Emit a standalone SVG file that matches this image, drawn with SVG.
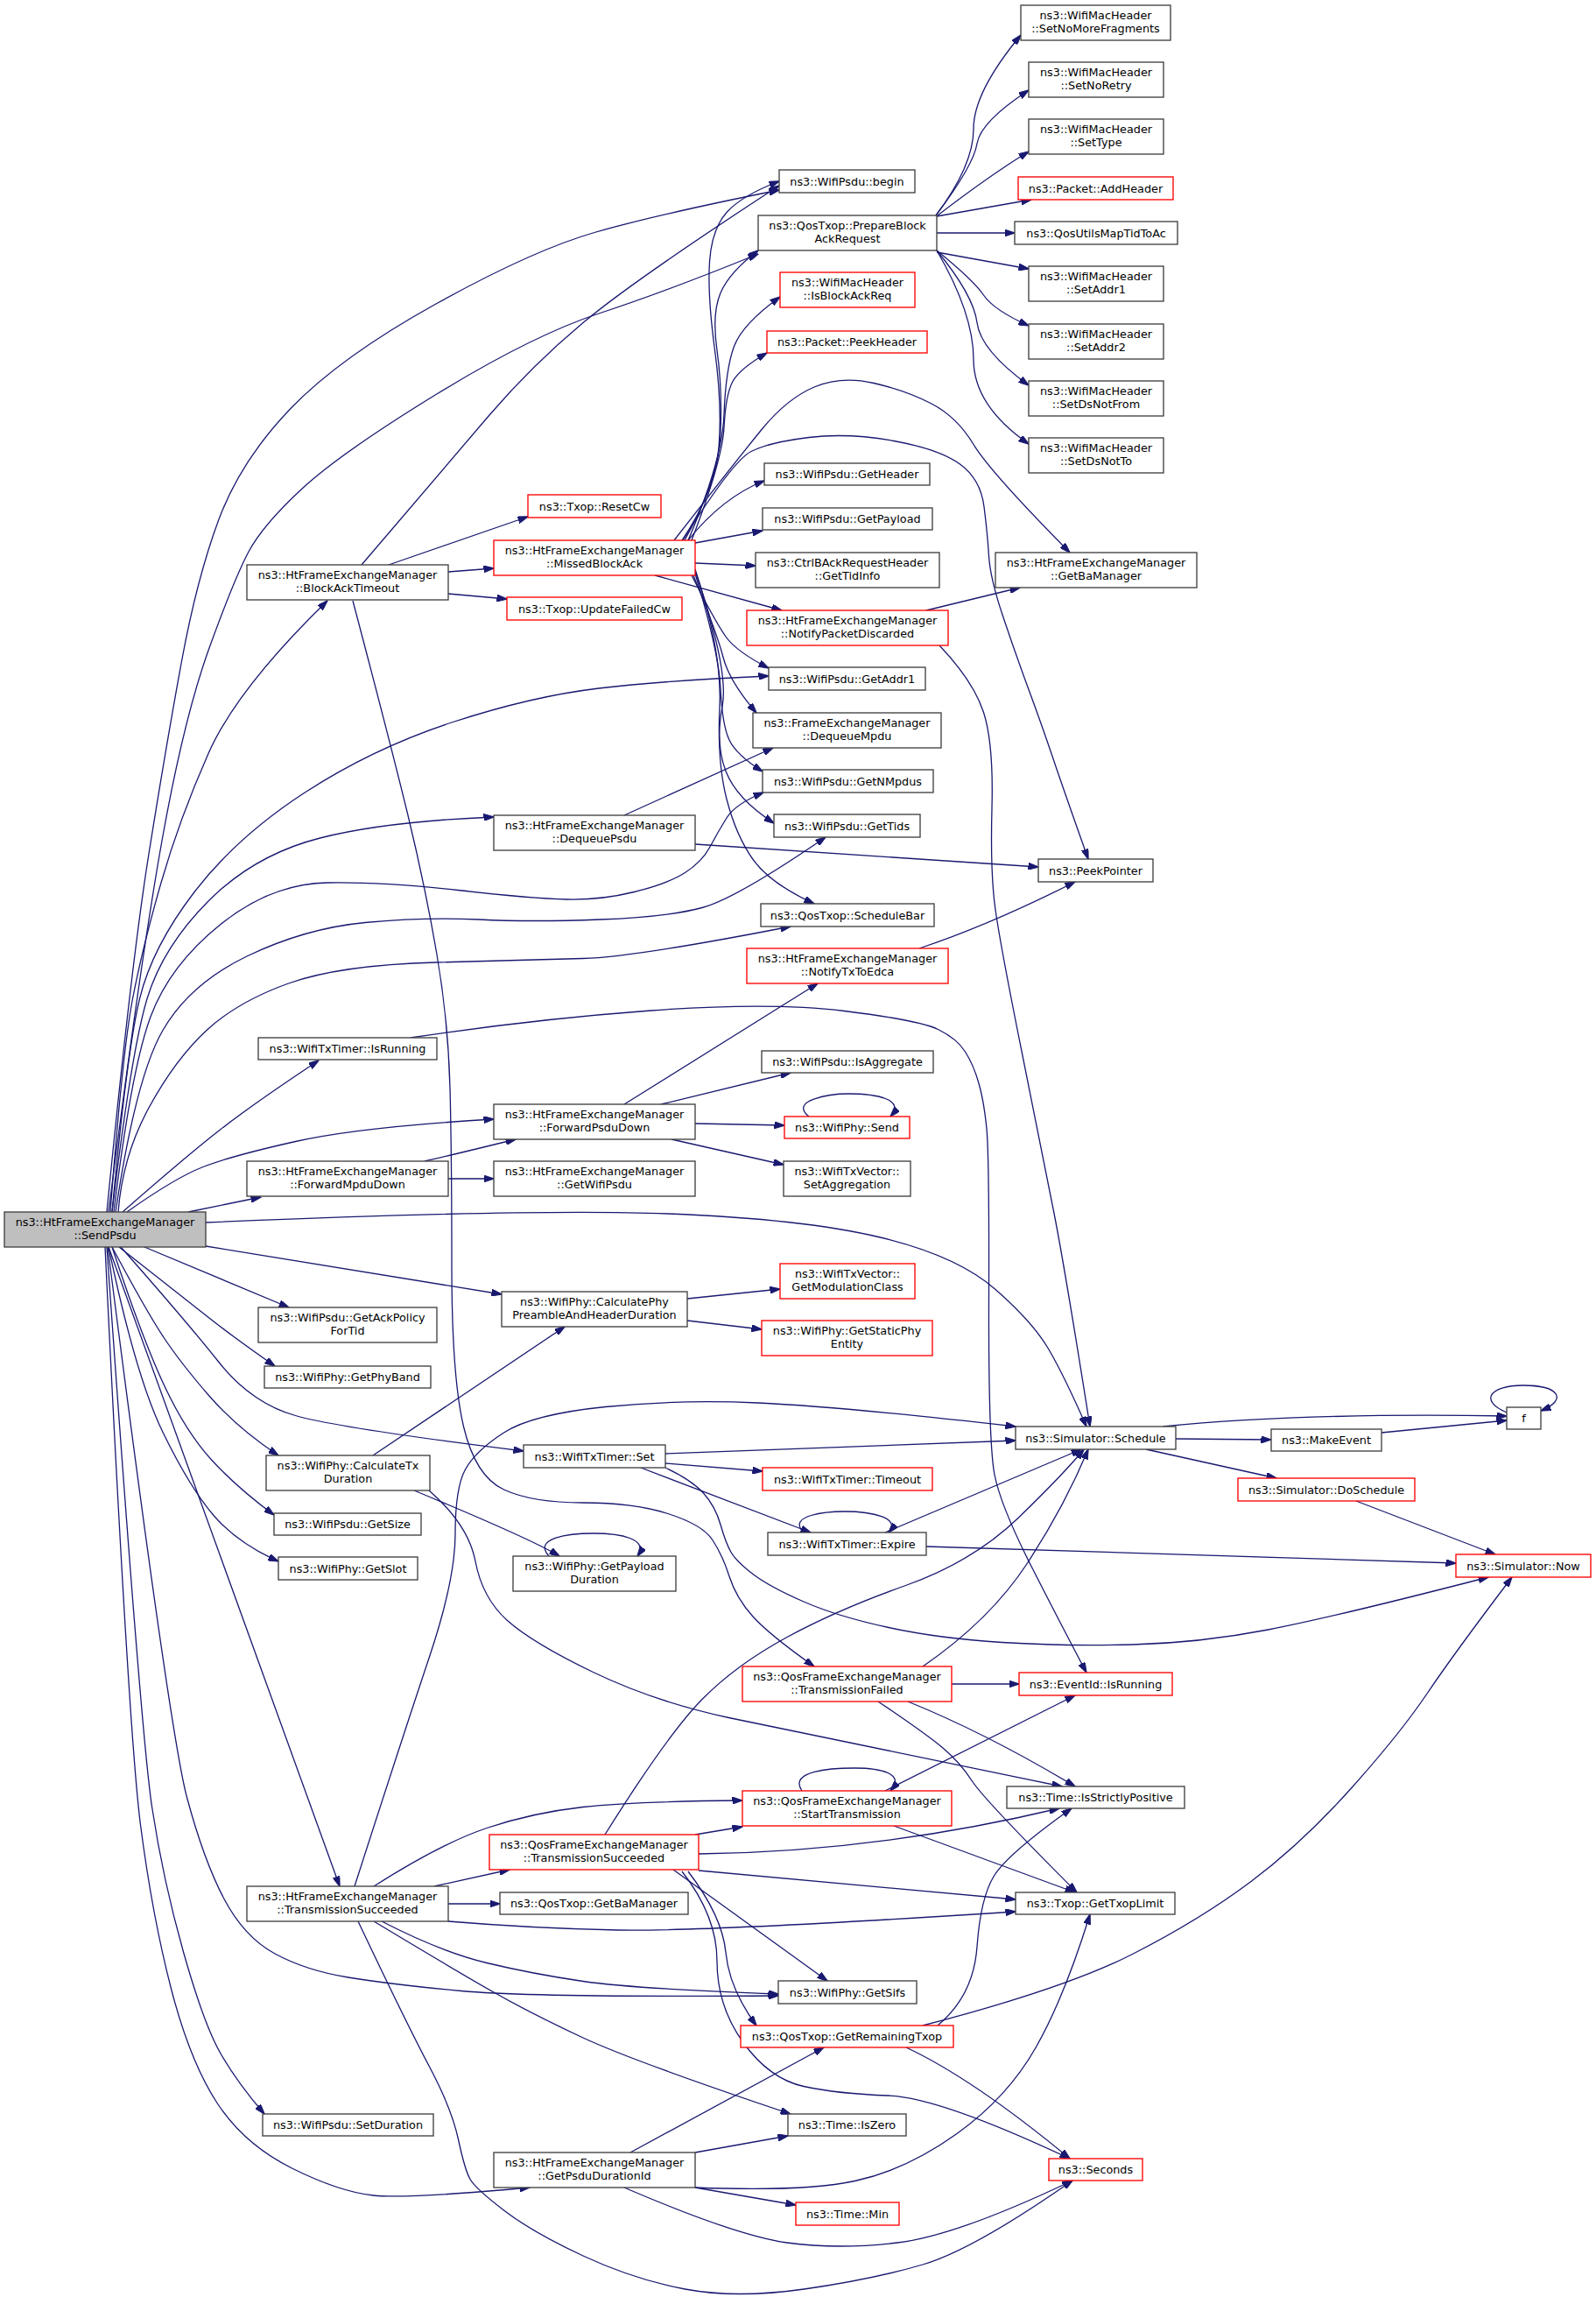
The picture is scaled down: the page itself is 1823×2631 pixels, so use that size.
<svg xmlns="http://www.w3.org/2000/svg" width="1823" height="2631" viewBox="0 0 1823 2631">
<style>
.node rect{fill:#ffffff;stroke:#404040;stroke-width:1.35}
.node.red rect{stroke:#ff0000}
.node.root rect{fill:#bfbfbf}
.node text{font-family:"DejaVu Sans","Liberation Sans",sans-serif;font-size:12.8px;text-anchor:middle;fill:#000}
#edges path{fill:none;stroke:#191970;stroke-width:1.3;marker-end:url(#arr)}
</style>
<defs>
<marker id="arr" markerWidth="12" markerHeight="8" refX="11.5" refY="4" orient="auto" markerUnits="userSpaceOnUse">
<path d="M0,0 L12,4 L0,8 z" fill="#191970" stroke="#191970" stroke-width="1"/>
</marker>
</defs>
<rect x="0" y="0" width="1823" height="2631" fill="#ffffff"/>
<g id="edges">
<path d="M122,1384 Q150,1100 170,975 Q190,850 207.5,755 Q225,660 250,593 Q275,526 331.5,467 Q388,408 498,347 Q608,286 679,265.5 Q750,245 890,217"/>
<path d="M124,1384 Q160,1100 185,960 Q210,820 239,740 Q268,660 284,630 Q300,600 344,559 Q388,518 498,450.5 Q608,383 685.5,357.5 Q763,332 866,290"/>
<path d="M126,1384 Q140,1200 151.5,1140.5 Q163,1081 184,1008 Q205,935 238,860.5 Q271,786 374,686"/>
<path d="M128,1384 Q145,1200 159.5,1140.5 Q174,1081 222.5,1018 Q271,955 349,904.5 Q427,854 517.5,824.5 Q608,795 684,786 Q760,777 878,772"/>
<path d="M128,1384 Q150,1200 168,1140.5 Q186,1081 238.5,1028.5 Q291,976 365.5,957 Q440,938 564,933"/>
<path d="M130,1384 Q150,1220 172,1161 Q194,1102 252,1055.5 Q310,1009 374,1008 Q438,1007 523,1016.5 Q608,1026 647,1027 Q686,1028 724.5,1018.5 Q763,1009 782.5,996.5 Q802,984 811,967 Q820,950 830,934 Q840,918 872,905"/>
<path d="M132,1384 Q155,1230 186,1176.5 Q217,1123 283,1091.5 Q349,1060 417,1053.5 Q485,1047 546.5,1050 Q608,1053 685.5,1050 Q763,1047 802,1036.5 Q841,1026 943,956"/>
<path d="M135,1384 Q140,1320 170,1265 Q200,1210 235.5,1177 Q271,1144 329.5,1123 Q388,1102 498,1099 Q608,1096 666,1094.5 Q724,1093 903,1058"/>
<path d="M140,1384 Q213,1320 251.5,1290 Q290,1260 364,1211"/>
<path d="M145,1384 Q200,1345 232,1332.5 Q264,1320 337.5,1303.5 Q411,1287 564,1278"/>
<path d="M215,1384 L298,1367"/>
<path d="M235,1396 Q608,1380 763,1386 Q918,1392 1005.5,1413 Q1093,1434 1136.5,1472 Q1180,1510 1198,1541 Q1216,1572 1241,1629"/>
<path d="M235,1423 L573,1478"/>
<path d="M165,1424 L330,1493"/>
<path d="M136,1424 Q217,1488 244,1509 Q271,1530 314,1560"/>
<path d="M138,1424 Q213,1509 250,1555.5 Q287,1602 337.5,1616.5 Q388,1631 598,1657"/>
<path d="M128,1424 Q167,1497 186.5,1526.5 Q206,1556 238.5,1593.5 Q271,1631 318,1662"/>
<path d="M128,1424 Q163,1530 188,1583 Q213,1636 242,1667.5 Q271,1699 313,1730"/>
<path d="M124,1424 Q155,1572 186,1635.5 Q217,1699 244,1730.5 Q271,1762 318,1783"/>
<path d="M124,1424 L388,2154"/>
<path d="M122,1424 Q161,1980 173.5,2063 Q186,2146 209.5,2229 Q233,2312 252,2345 Q271,2378 302,2414"/>
<path d="M120,1424 Q147,1980 160.5,2084 Q174,2188 195.5,2271 Q217,2354 248,2401.5 Q279,2449 333.5,2476 Q388,2503 426.5,2507 Q465,2511 605,2498"/>
<path d="M123,1424 Q194,1980 213.5,2052.5 Q233,2125 256,2168.5 Q279,2212 314,2231 Q349,2250 397.5,2258 Q446,2266 527,2273.5 Q608,2281 889,2279"/>
<path d="M413,645 Q510,531 559,474 Q608,417 666,368.5 Q724,320 890,212"/>
<path d="M444,645 L603,590"/>
<path d="M512,653 L564,649"/>
<path d="M512,678 L579,684"/>
<path d="M403,686 Q446,849 465.5,929 Q485,1009 498.5,1087 Q512,1165 514,1242.5 Q516,1320 516,1446 Q516,1572 529.5,1629 Q543,1686 575.5,1701 Q608,1716 666,1716 Q724,1716 763,1728.5 Q802,1741 813.5,1758 Q825,1775 833,1800 Q841,1825 860,1846 Q879,1867 930,1903"/>
<path d="M779,617 Q817,560 821,511.5 Q825,463 816.5,400 Q808,337 810.5,299 Q813,261 830.5,242 Q848,223 890,207"/>
<path d="M782,617 Q821,547 823,494.5 Q825,442 819,400 Q813,358 823,334.5 Q833,311 866,286"/>
<path d="M786,617 Q825,526 827,473.5 Q829,421 838.5,395.5 Q848,370 891,339"/>
<path d="M790,617 Q825,526 827,488 Q829,450 837,435.5 Q845,421 876,403"/>
<path d="M786,617 Q825,568 873,549"/>
<path d="M794,620 L871,606"/>
<path d="M794,643 L863,646"/>
<path d="M748,657 L893,697"/>
<path d="M790,657 Q817,710 829,727 Q841,744 878,763"/>
<path d="M792,657 Q819,723 826,750.5 Q833,778 864,814"/>
<path d="M794,655 Q821,744 823,786 Q825,828 833,845 Q841,862 871,881"/>
<path d="M794,652 Q833,765 825,807 Q817,849 829,880.5 Q841,912 884,940"/>
<path d="M794,650 Q825,744 822,807 Q819,870 830,912.5 Q841,955 860.5,982 Q880,1009 930,1032"/>
<path d="M770,617 Q841,526 870,490.5 Q899,455 930,442 Q961,429 998,437.5 Q1035,446 1064,461 Q1093,476 1112,507.5 Q1131,539 1222,631"/>
<path d="M780,617 Q837,526 858,515.5 Q879,505 924,499.5 Q969,494 1021,503.5 Q1073,513 1096.5,530 Q1120,547 1124,578.5 Q1128,610 1129.5,635 Q1131,660 1145,702 Q1159,744 1174.5,786 Q1190,828 1203,866.5 Q1216,905 1243,981"/>
<path d="M1058,697 L1165,671"/>
<path d="M1073,737 Q1112,778 1123.5,813.5 Q1135,849 1133,923 Q1131,997 1137,1039 Q1143,1081 1167,1200.5 Q1191,1320 1203.5,1383 Q1216,1446 1245,1629"/>
<path d="M713,931 L883,854"/>
<path d="M794,964 L1186,990"/>
<path d="M1050,1083 Q1131,1056 1228,1007"/>
<path d="M469,1185 Q608,1164 743.5,1154 Q879,1144 964.5,1154.5 Q1050,1165 1071.5,1175.5 Q1093,1186 1102.5,1201 Q1112,1216 1118,1237 Q1124,1258 1127,1289 Q1130,1320 1129.5,1484 Q1129,1648 1136,1684 Q1143,1720 1179.5,1791.5 Q1216,1863 1241,1910"/>
<path d="M713,1261 L934,1123"/>
<path d="M755,1261 L903,1225"/>
<path d="M794,1283 L896,1285"/>
<path d="M767,1301 L895,1330"/>
<path d="M924,1275 C900,1256 950,1249 969,1249 C1000,1249 1035,1255 1017,1275"/>
<path d="M485,1326 Q516,1319 589,1301"/>
<path d="M512,1346 L564,1346"/>
<path d="M426,1662 L645,1515"/>
<path d="M473,1702 Q608,1758 639,1777"/>
<path d="M490,1702 Q535,1741 543,1783 Q551,1825 579.5,1850.5 Q608,1876 677.5,1909.5 Q747,1943 832.5,1961.5 Q918,1980 1213,2040"/>
<path d="M785,1483 L891,1472"/>
<path d="M785,1508 L870,1518"/>
<path d="M627,1777 C608,1756 650,1751 678,1751 C708,1751 742,1757 728,1777"/>
<path d="M760,1660 L1160,1645"/>
<path d="M760,1671 L871,1680"/>
<path d="M732,1676 L926,1750"/>
<path d="M760,1676 Q790,1690 803.5,1705 Q817,1720 823,1741 Q829,1762 835,1772.5 Q841,1783 860,1797.5 Q879,1812 918,1829 Q957,1846 1015,1858.5 Q1073,1871 1144.5,1875.5 Q1216,1880 1293.5,1878 Q1371,1876 1448.5,1861 Q1526,1846 1700,1801"/>
<path d="M918,1750 C898,1730 945,1726 965,1726 C995,1726 1030,1733 1015,1750"/>
<path d="M1011,1750 L1235,1655"/>
<path d="M1058,1766 Q1216,1771 1663,1785"/>
<path d="M405,2154 Q461,1980 490.5,1892 Q520,1804 520,1751.5 Q520,1699 531.5,1678 Q543,1657 575.5,1636 Q608,1615 691.5,1606.5 Q775,1598 866,1602 Q957,1606 1160,1629"/>
<path d="M691,2095 Q763,1980 802,1940.5 Q841,1901 899,1869.5 Q957,1838 1034.5,1810.5 Q1112,1783 1164,1732.5 Q1216,1682 1238,1655"/>
<path d="M1054,1903 Q1131,1850 1173.5,1785 Q1216,1720 1243,1655"/>
<path d="M1087,1923 L1164,1923"/>
<path d="M1003,1943 Q1058,1980 1077.5,1996.5 Q1097,2013 1110.5,2034 Q1124,2055 1230,2161"/>
<path d="M1037,1943 Q1128,1980 1228,2040"/>
<path d="M1328,1629 Q1487,1613 1721,1617"/>
<path d="M1343,1643 L1452,1644"/>
<path d="M1309,1655 L1458,1688"/>
<path d="M1578,1636 L1721,1622"/>
<path d="M1721,1613 C1690,1600 1700,1582 1740,1582 C1780,1582 1792,1598 1760,1611"/>
<path d="M1549,1714 L1708,1775"/>
<path d="M916,2045 C900,2022 950,2019 976,2019 C1005,2019 1035,2025 1017,2045"/>
<path d="M1011,2045 L1228,1936"/>
<path d="M1021,2085 L1228,2161"/>
<path d="M794,2095 L848,2086"/>
<path d="M798,2117 Q1000,2115 1210,2065"/>
<path d="M798,2136 L1160,2169"/>
<path d="M769,2135 L945,2262"/>
<path d="M786,2137 Q825,2188 829,2229.5 Q833,2271 864,2313"/>
<path d="M779,2137 Q819,2188 819,2239.5 Q819,2291 849,2332.5 Q879,2374 918,2382.5 Q957,2391 1015,2393 Q1073,2395 1222,2465"/>
<path d="M427,2154 Q504,2105 556,2087.5 Q608,2070 666,2063.5 Q724,2057 848,2056"/>
<path d="M496,2154 L582,2135"/>
<path d="M512,2174 L571,2174"/>
<path d="M512,2194 Q608,2202 705,2204 Q802,2206 1160,2183"/>
<path d="M436,2194 Q504,2229 556,2241.5 Q608,2254 666,2262.5 Q724,2271 889,2277"/>
<path d="M427,2194 Q520,2250 564,2275 Q608,2300 666,2327 Q724,2354 903,2414"/>
<path d="M409,2194 Q465,2312 490.5,2360 Q516,2408 523.5,2443 Q531,2478 537,2488.5 Q543,2499 575.5,2524 Q608,2549 666,2576 Q724,2603 782.5,2614 Q841,2625 918.5,2614 Q996,2603 1054,2586 Q1112,2569 1225,2490"/>
<path d="M1071,2313 Q1112,2279 1116,2223 Q1120,2167 1135.5,2142 Q1151,2117 1224,2065"/>
<path d="M1054,2313 Q1216,2271 1293.5,2231.5 Q1371,2192 1429,2148.5 Q1487,2105 1543,2042.5 Q1599,1980 1630,1934 Q1661,1888 1727,1801"/>
<path d="M1035,2338 Q1112,2374 1222,2465"/>
<path d="M720,2458 L941,2338"/>
<path d="M794,2458 L900,2439"/>
<path d="M794,2498 L909,2518"/>
<path d="M794,2498 Q918,2503 976.5,2490.5 Q1035,2478 1093,2436.5 Q1151,2395 1183.5,2337.5 Q1216,2280 1245,2186"/>
<path d="M713,2498 Q841,2553 899,2561 Q957,2569 1025,2561 Q1093,2553 1225,2490"/>
<path d="M1069,246 Q1112,189 1112,147 Q1112,105 1166,40"/>
<path d="M1069,246 Q1112,189 1116,164 Q1120,139 1175,103"/>
<path d="M1071,246 Q1128,202 1175,173"/>
<path d="M1070,247 L1178,228"/>
<path d="M1070,266 L1159,266"/>
<path d="M1070,288 L1175,307"/>
<path d="M1070,286 Q1112,320 1123.5,337 Q1135,354 1175,372"/>
<path d="M1070,286 Q1112,337 1116,368.5 Q1120,400 1175,440"/>
<path d="M1070,286 Q1112,358 1112,410.5 Q1112,463 1175,507"/>
</g>
<g id="n0" class="node root"><rect x="5" y="1384" width="230" height="40"/><text x="120" y="1399.5">ns3::HtFrameExchangeManager</text><text x="120" y="1414.5">::SendPsdu</text></g>
<g id="n1" class="node"><rect x="282" y="645" width="230" height="40"/><text x="397" y="660.5">ns3::HtFrameExchangeManager</text><text x="397" y="675.5">::BlockAckTimeout</text></g>
<g id="n2" class="node"><rect x="890" y="194" width="155" height="26"/><text x="967.5" y="211.5">ns3::WifiPsdu::begin</text></g>
<g id="n3" class="node"><rect x="866" y="246" width="204" height="40"/><text x="968" y="261.5">ns3::QosTxop::PrepareBlock</text><text x="968" y="276.5">AckRequest</text></g>
<g id="n4" class="node red"><rect x="603" y="565" width="152" height="26"/><text x="679" y="582.5">ns3::Txop::ResetCw</text></g>
<g id="n5" class="node red"><rect x="564" y="617" width="230" height="40"/><text x="679" y="632.5">ns3::HtFrameExchangeManager</text><text x="679" y="647.5">::MissedBlockAck</text></g>
<g id="n6" class="node red"><rect x="579" y="682" width="200" height="26"/><text x="679" y="699.5">ns3::Txop::UpdateFailedCw</text></g>
<g id="n7" class="node red"><rect x="891" y="311" width="154" height="40"/><text x="968" y="326.5">ns3::WifiMacHeader</text><text x="968" y="341.5">::IsBlockAckReq</text></g>
<g id="n8" class="node red"><rect x="876" y="378" width="183" height="25"/><text x="967.5" y="395">ns3::Packet::PeekHeader</text></g>
<g id="n9" class="node"><rect x="873" y="529" width="189" height="25"/><text x="967.5" y="546">ns3::WifiPsdu::GetHeader</text></g>
<g id="n10" class="node"><rect x="871" y="580" width="194" height="25"/><text x="968" y="597">ns3::WifiPsdu::GetPayload</text></g>
<g id="n11" class="node"><rect x="863" y="631" width="210" height="40"/><text x="968" y="646.5">ns3::CtrlBAckRequestHeader</text><text x="968" y="661.5">::GetTidInfo</text></g>
<g id="n12" class="node red"><rect x="853" y="697" width="230" height="40"/><text x="968" y="712.5">ns3::HtFrameExchangeManager</text><text x="968" y="727.5">::NotifyPacketDiscarded</text></g>
<g id="n13" class="node"><rect x="878" y="762" width="179" height="26"/><text x="967.5" y="779.5">ns3::WifiPsdu::GetAddr1</text></g>
<g id="n14" class="node"><rect x="860" y="814" width="215" height="40"/><text x="967.5" y="829.5">ns3::FrameExchangeManager</text><text x="967.5" y="844.5">::DequeueMpdu</text></g>
<g id="n15" class="node"><rect x="871" y="879" width="195" height="26"/><text x="968.5" y="896.5">ns3::WifiPsdu::GetNMpdus</text></g>
<g id="n16" class="node"><rect x="884" y="930" width="167" height="26"/><text x="967.5" y="947.5">ns3::WifiPsdu::GetTids</text></g>
<g id="n17" class="node"><rect x="564" y="931" width="230" height="40"/><text x="679" y="946.5">ns3::HtFrameExchangeManager</text><text x="679" y="961.5">::DequeuePsdu</text></g>
<g id="n18" class="node"><rect x="1186" y="981" width="131" height="26"/><text x="1251.5" y="998.5">ns3::PeekPointer</text></g>
<g id="n19" class="node"><rect x="869" y="1032" width="198" height="26"/><text x="968" y="1049.5">ns3::QosTxop::ScheduleBar</text></g>
<g id="n20" class="node red"><rect x="853" y="1083" width="230" height="40"/><text x="968" y="1098.5">ns3::HtFrameExchangeManager</text><text x="968" y="1113.5">::NotifyTxToEdca</text></g>
<g id="n21" class="node"><rect x="295" y="1185" width="204" height="25"/><text x="397" y="1202">ns3::WifiTxTimer::IsRunning</text></g>
<g id="n22" class="node"><rect x="870" y="1200" width="196" height="25"/><text x="968" y="1217">ns3::WifiPsdu::IsAggregate</text></g>
<g id="n23" class="node red"><rect x="896" y="1275" width="143" height="25"/><text x="967.5" y="1292">ns3::WifiPhy::Send</text></g>
<g id="n24" class="node"><rect x="564" y="1261" width="230" height="40"/><text x="679" y="1276.5">ns3::HtFrameExchangeManager</text><text x="679" y="1291.5">::ForwardPsduDown</text></g>
<g id="n25" class="node"><rect x="282" y="1326" width="230" height="40"/><text x="397" y="1341.5">ns3::HtFrameExchangeManager</text><text x="397" y="1356.5">::ForwardMpduDown</text></g>
<g id="n26" class="node"><rect x="564" y="1326" width="230" height="40"/><text x="679" y="1341.5">ns3::HtFrameExchangeManager</text><text x="679" y="1356.5">::GetWifiPsdu</text></g>
<g id="n27" class="node"><rect x="895" y="1326" width="145" height="40"/><text x="967.5" y="1341.5">ns3::WifiTxVector::</text><text x="967.5" y="1356.5">SetAggregation</text></g>
<g id="n28" class="node"><rect x="573" y="1475" width="212" height="40"/><text x="679" y="1490.5">ns3::WifiPhy::CalculatePhy</text><text x="679" y="1505.5">PreambleAndHeaderDuration</text></g>
<g id="n29" class="node"><rect x="295" y="1493" width="204" height="40"/><text x="397" y="1508.5">ns3::WifiPsdu::GetAckPolicy</text><text x="397" y="1523.5">ForTid</text></g>
<g id="n30" class="node"><rect x="302" y="1560" width="190" height="25"/><text x="397" y="1577">ns3::WifiPhy::GetPhyBand</text></g>
<g id="n31" class="node red"><rect x="891" y="1443" width="154" height="40"/><text x="968" y="1458.5">ns3::WifiTxVector::</text><text x="968" y="1473.5">GetModulationClass</text></g>
<g id="n32" class="node red"><rect x="870" y="1508" width="195" height="40"/><text x="967.5" y="1523.5">ns3::WifiPhy::GetStaticPhy</text><text x="967.5" y="1538.5">Entity</text></g>
<g id="n33" class="node"><rect x="598" y="1650" width="162" height="26"/><text x="679" y="1667.5">ns3::WifiTxTimer::Set</text></g>
<g id="n34" class="node"><rect x="304" y="1662" width="187" height="40"/><text x="397.5" y="1677.5">ns3::WifiPhy::CalculateTx</text><text x="397.5" y="1692.5">Duration</text></g>
<g id="n35" class="node"><rect x="313" y="1728" width="168" height="25"/><text x="397" y="1745">ns3::WifiPsdu::GetSize</text></g>
<g id="n36" class="node"><rect x="318" y="1778" width="159" height="26"/><text x="397.5" y="1795.5">ns3::WifiPhy::GetSlot</text></g>
<g id="n37" class="node"><rect x="586" y="1777" width="186" height="40"/><text x="679" y="1792.5">ns3::WifiPhy::GetPayload</text><text x="679" y="1807.5">Duration</text></g>
<g id="n38" class="node"><rect x="1160" y="1629" width="183" height="26"/><text x="1251.5" y="1646.5">ns3::Simulator::Schedule</text></g>
<g id="n39" class="node red"><rect x="871" y="1676" width="194" height="26"/><text x="968" y="1693.5">ns3::WifiTxTimer::Timeout</text></g>
<g id="n40" class="node"><rect x="877" y="1750" width="181" height="26"/><text x="967.5" y="1767.5">ns3::WifiTxTimer::Expire</text></g>
<g id="n41" class="node red"><rect x="848" y="1903" width="239" height="40"/><text x="967.5" y="1918.5">ns3::QosFrameExchangeManager</text><text x="967.5" y="1933.5">::TransmissionFailed</text></g>
<g id="n42" class="node red"><rect x="1164" y="1910" width="175" height="26"/><text x="1251.5" y="1927.5">ns3::EventId::IsRunning</text></g>
<g id="n43" class="node"><rect x="1721" y="1607" width="39" height="25"/><text x="1740.5" y="1624">f</text></g>
<g id="n44" class="node"><rect x="1452" y="1632" width="126" height="25"/><text x="1515" y="1649">ns3::MakeEvent</text></g>
<g id="n45" class="node red"><rect x="1414" y="1688" width="202" height="26"/><text x="1515" y="1705.5">ns3::Simulator::DoSchedule</text></g>
<g id="n46" class="node red"><rect x="1663" y="1775" width="154" height="26"/><text x="1740" y="1792.5">ns3::Simulator::Now</text></g>
<g id="n47" class="node red"><rect x="848" y="2045" width="239" height="40"/><text x="967.5" y="2060.5">ns3::QosFrameExchangeManager</text><text x="967.5" y="2075.5">::StartTransmission</text></g>
<g id="n48" class="node"><rect x="1150" y="2040" width="203" height="25"/><text x="1251.5" y="2057">ns3::Time::IsStrictlyPositive</text></g>
<g id="n49" class="node red"><rect x="559" y="2095" width="239" height="40"/><text x="678.5" y="2110.5">ns3::QosFrameExchangeManager</text><text x="678.5" y="2125.5">::TransmissionSucceeded</text></g>
<g id="n50" class="node"><rect x="571" y="2161" width="215" height="25"/><text x="678.5" y="2178">ns3::QosTxop::GetBaManager</text></g>
<g id="n51" class="node"><rect x="1160" y="2161" width="182" height="25"/><text x="1251" y="2178">ns3::Txop::GetTxopLimit</text></g>
<g id="n52" class="node"><rect x="282" y="2154" width="230" height="40"/><text x="397" y="2169.5">ns3::HtFrameExchangeManager</text><text x="397" y="2184.5">::TransmissionSucceeded</text></g>
<g id="n53" class="node"><rect x="889" y="2262" width="158" height="26"/><text x="968" y="2279.5">ns3::WifiPhy::GetSifs</text></g>
<g id="n54" class="node red"><rect x="846" y="2313" width="243" height="25"/><text x="967.5" y="2330">ns3::QosTxop::GetRemainingTxop</text></g>
<g id="n55" class="node"><rect x="900" y="2414" width="135" height="25"/><text x="967.5" y="2431">ns3::Time::IsZero</text></g>
<g id="n56" class="node"><rect x="300" y="2414" width="195" height="25"/><text x="397.5" y="2431">ns3::WifiPsdu::SetDuration</text></g>
<g id="n57" class="node"><rect x="564" y="2458" width="230" height="40"/><text x="679" y="2473.5">ns3::HtFrameExchangeManager</text><text x="679" y="2488.5">::GetPsduDurationId</text></g>
<g id="n58" class="node red"><rect x="909" y="2515" width="118" height="26"/><text x="968" y="2532.5">ns3::Time::Min</text></g>
<g id="n59" class="node red"><rect x="1198" y="2465" width="107" height="25"/><text x="1251.5" y="2482">ns3::Seconds</text></g>
<g id="n60" class="node"><rect x="1137" y="631" width="230" height="40"/><text x="1252" y="646.5">ns3::HtFrameExchangeManager</text><text x="1252" y="661.5">::GetBaManager</text></g>
<g id="n61" class="node"><rect x="1166" y="6" width="171" height="40"/><text x="1251.5" y="21.5">ns3::WifiMacHeader</text><text x="1251.5" y="36.5">::SetNoMoreFragments</text></g>
<g id="n62" class="node"><rect x="1175" y="71" width="154" height="40"/><text x="1252" y="86.5">ns3::WifiMacHeader</text><text x="1252" y="101.5">::SetNoRetry</text></g>
<g id="n63" class="node"><rect x="1175" y="136" width="154" height="40"/><text x="1252" y="151.5">ns3::WifiMacHeader</text><text x="1252" y="166.5">::SetType</text></g>
<g id="n64" class="node red"><rect x="1163" y="202" width="177" height="26"/><text x="1251.5" y="219.5">ns3::Packet::AddHeader</text></g>
<g id="n65" class="node"><rect x="1159" y="253" width="186" height="26"/><text x="1252" y="270.5">ns3::QosUtilsMapTidToAc</text></g>
<g id="n66" class="node"><rect x="1175" y="304" width="154" height="40"/><text x="1252" y="319.5">ns3::WifiMacHeader</text><text x="1252" y="334.5">::SetAddr1</text></g>
<g id="n67" class="node"><rect x="1175" y="370" width="154" height="40"/><text x="1252" y="385.5">ns3::WifiMacHeader</text><text x="1252" y="400.5">::SetAddr2</text></g>
<g id="n68" class="node"><rect x="1175" y="435" width="154" height="40"/><text x="1252" y="450.5">ns3::WifiMacHeader</text><text x="1252" y="465.5">::SetDsNotFrom</text></g>
<g id="n69" class="node"><rect x="1175" y="500" width="154" height="40"/><text x="1252" y="515.5">ns3::WifiMacHeader</text><text x="1252" y="530.5">::SetDsNotTo</text></g>
</svg>
